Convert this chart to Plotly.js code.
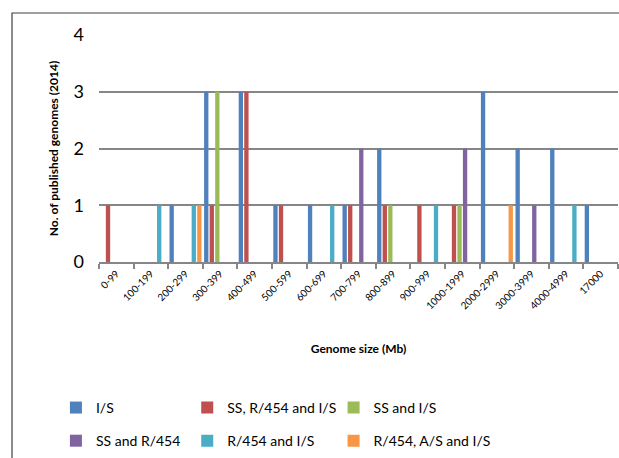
<!DOCTYPE html>
<html>
<head>
<meta charset="utf-8">
<script src="https://cdn.plot.ly/plotly-3.0.1.min.js"></script>
<style>html,body{margin:0;padding:0;background:#fff}#chart{width:619px;height:458px}</style>
</head>
<body>
<div id="chart"></div>
<script>
const categories = ["0-99","100-199","200-299","300-399","400-499","500-599","600-699","700-799","800-899","900-999","1000-1999","2000-2999","3000-3999","4000-4999","17000"];
const seriesNames = ["I/S","SS, R/454 and I/S","SS and I/S","SS and R/454","R/454 and I/S","R/454, A/S and I/S"];
const isValues      = [0,0,1,3,3,1,1,1,2,0,0,3,2,2,1];
const ssR454IsValues = [1,0,0,1,3,1,0,1,1,1,1,0,0,0,0];
const ssIsValues    = [0,0,0,3,0,0,0,0,1,0,1,0,0,0,0];
const ssR454Values  = [0,0,0,0,0,0,0,2,0,0,2,0,1,0,0];
const r454IsValues  = [0,1,1,0,0,0,1,0,0,1,0,0,0,1,0];
const r454AsIsValues = [0,0,1,0,0,0,0,0,0,0,0,1,0,0,0];
const colors = ["#4F81BD","#C0504D","#9BBB59","#8064A2","#4BACC6","#F79646"];
const allValues = [isValues, ssR454IsValues, ssIsValues, ssR454Values, r454IsValues, r454AsIsValues];

const legendIds = ["legend","legend2","legend3","legend4","legend5","legend6"];
const traces = allValues.map((v, i) => ({
  type: "bar",
  name: seriesNames[i],
  x: categories,
  y: v,
  legend: legendIds[i],
  marker: {color: colors[i], line: {width: 0}},
  hoverinfo: "x+y+name"
}));

const font = "Lato, 'Open Sans', sans-serif";
const colX = [-0.083, 0.170, 0.452];
const rowY = [-0.643, -0.789];

const layout = {
  width: 619, height: 458,
  margin: {l: 99, r: 1, t: 35, b: 196},
  paper_bgcolor: "#fff", plot_bgcolor: "#fff",
  barmode: "group", bargap: 0.04, bargroupgap: 0.22,
  font: {family: font, color: "#000"},
  showlegend: true,
  xaxis: {
    type: "category",
    tickangle: -45,
    tickfont: {size: 10, family: font},
    ticks: "outside", ticklen: 5, tickcolor: "#868686", tickwidth: 2,
    tickson: "boundaries",
    showline: true, linecolor: "#868686", linewidth: 2,
    showgrid: false,
    title: {text: "<b>Genome size (Mb)</b>", font: {size: 12, family: font}, standoff: 34}
  },
  yaxis: {
    range: [0, 4], dtick: 1, tick0: 0,
    tickfont: {size: 18, family: font},
    showgrid: true, gridcolor: "#868686", gridwidth: 2,
    zeroline: false, showline: false,
    ticks: "", ticklabelstandoff: 14,
    title: {text: "<b>No. of published genomes (2014)</b>", font: {size: 12, family: font}, standoff: 12}
  },
  shapes: [{
    type: "rect", xref: "paper", yref: "paper",
    x0: -0.1676, x1: 1.05, y0: -0.9, y1: 1.097,
    line: {color: "#404040", width: 1.2}, fillcolor: "rgba(0,0,0,0)", layer: "below"
  }]
};
legendIds.forEach((id, i) => {
  layout[id] = {
    orientation: "h", xanchor: "left", yanchor: "middle",
    x: colX[i % 3], y: rowY[Math.floor(i / 3)],
    font: {size: 14, family: font}, itemwidth: 30, bgcolor: "rgba(0,0,0,0)"
  };
});
Plotly.newPlot("chart", traces, layout, {displayModeBar: false, staticPlot: true});
</script>
</body>
</html>
